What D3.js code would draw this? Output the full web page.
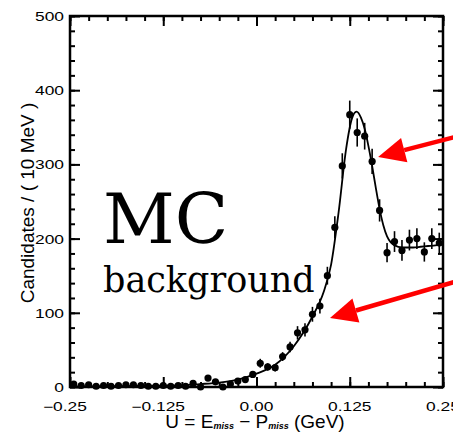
<!DOCTYPE html>
<html>
<head>
<meta charset="utf-8">
<script src="https://cdn.jsdelivr.net/npm/d3@7"></script>
<style>
  body { margin: 0; background: #fff; }
  svg { display: block; }
  .tick-label { font-family: "Liberation Sans", Arial, sans-serif; font-size: 12px; fill: #000; }
  .axis-title { font-family: "Liberation Sans", Arial, sans-serif; font-size: 19px; fill: #000; }
  .note { font-family: "DejaVu Serif", serif; fill: #000; }
</style>
</head>
<body>
<div id="chart"></div>
<script>
//Global variables
const width = 453;
const height = 435;
const plotLeft = 70, plotRight = 443, plotTop = 16, plotBottom = 387;

//Histogram bins (GeV)
const binCenters = [-0.245, -0.235, -0.225, -0.215, -0.205, -0.195, -0.185, -0.175, -0.165, -0.155,
    -0.145, -0.135, -0.125, -0.115, -0.105, -0.095, -0.085, -0.075, -0.065, -0.055,
    -0.045, -0.035, -0.025, -0.015, -0.005, 0.005, 0.015, 0.025, 0.035, 0.045,
    0.055, 0.065, 0.075, 0.085, 0.095, 0.105, 0.115, 0.125, 0.135, 0.145,
    0.155, 0.165, 0.175, 0.185, 0.195, 0.205, 0.215, 0.225, 0.235, 0.245];
const counts = [4, 2, 3, 1, 2, 1, 2, 3, 3, 2,
    1, 1, 2, 1, 2, 1, 5, 0, 12, 7,
    0, 4, 8, 10, 17, 32, 27, 26, 41, 54,
    73, 77, 98, 109, 150, 215, 298, 367, 343, 338,
    304, 238, 181, 196, 184, 198, 200, 182, 200, 194];
const errors = [2, 1.5, 2, 1, 1.5, 1, 1.5, 2, 2, 1.5,
    1, 1, 1.5, 1, 1.5, 1, 2.5, 1, 4, 3,
    1, 2, 3, 3, 4, 6, 5, 5, 6, 7,
    9, 9, 10, 10, 12, 15, 17, 19, 19, 18,
    17, 15, 13, 14, 14, 14, 14, 13, 14, 14];

//Fit curve
const fitX = [-0.25, -0.2, -0.15, -0.1, -0.075, -0.05, -0.025, 0, 0.025, 0.05, 0.075, 0.09, 0.1,
    0.11, 0.12, 0.128, 0.134, 0.14, 0.145, 0.15, 0.155, 0.16, 0.165, 0.17, 0.175, 0.18,
    0.19, 0.2, 0.21, 0.22, 0.23, 0.24, 0.25];
const fitY = [0.5, 1, 1.5, 2.5, 4, 6, 10, 18, 30, 55, 95, 128, 165,
    235, 320, 362, 371, 363, 348, 325, 298, 268, 240, 218, 203, 195,
    189, 188, 188, 189, 190, 191, 193];

//Ticks
const xMajor = [-0.25, -0.125, 0, 0.125, 0.25];
const xLabels = ["\u22120.25", "\u22120.125", "0.00", "0.125", "0.25"];
const xMinor = d3.range(-0.25, 0.2501, 0.025);
const yMajor = [0, 100, 200, 300, 400, 500];
const yMinor = d3.range(0, 501, 20);

//Annotations (data units)
const arrowTips = [[0.163, 310], [0.0985, 93]];
const arrowTails = [[0.27, 338], [0.27, 143]];

//Scales
const x = d3.scaleLinear().domain([-0.25, 0.25]).range([plotLeft, plotRight]);
const y = d3.scaleLinear().domain([0, 500]).range([plotBottom, plotTop]);

const svg = d3.select("#chart")
    .append("svg")
    .attr("width", width)
    .attr("height", height);

//Tick marks, inward on all four sides
function ticks(axis, pos, vals, size) {
    const g = svg.append("g")
        .attr("transform", pos)
        .call(axis.tickValues(vals).tickSize(-size).tickFormat(""));
    g.select(".domain").remove();
    g.selectAll("line").attr("stroke", "#000").attr("stroke-width", 2);
}
ticks(d3.axisBottom(x), `translate(0,${plotBottom})`, xMinor, 5);
ticks(d3.axisBottom(x), `translate(0,${plotBottom})`, xMajor, 10);
ticks(d3.axisTop(x), `translate(0,${plotTop})`, xMinor, 5);
ticks(d3.axisTop(x), `translate(0,${plotTop})`, xMajor, 10);
ticks(d3.axisLeft(y), `translate(${plotLeft},0)`, yMinor, 5);
ticks(d3.axisLeft(y), `translate(${plotLeft},0)`, yMajor, 10);
ticks(d3.axisRight(y), `translate(${plotRight},0)`, yMinor, 5);
ticks(d3.axisRight(y), `translate(${plotRight},0)`, yMajor, 10);

//Frame
svg.append("rect")
    .attr("x", plotLeft).attr("y", plotTop)
    .attr("width", plotRight - plotLeft).attr("height", plotBottom - plotTop)
    .attr("fill", "none").attr("stroke", "#000").attr("stroke-width", 2.5);

//Tick labels (wide font, stretched horizontally)
yMajor.forEach(v => {
    svg.append("text")
        .attr("class", "tick-label")
        .attr("transform", `translate(${plotLeft - 6},${y(v) + 5}) scale(1.45,1)`)
        .attr("text-anchor", "end")
        .text(v);
});
xMajor.forEach((v, i) => {
    svg.append("text")
        .attr("class", "tick-label")
        .attr("transform", `translate(${x(v)},${plotBottom + 24}) scale(1.45,1)`)
        .attr("text-anchor", "middle")
        .attr("dx", v < 0 ? -3.5 : 0)
        .text(xLabels[i]);
});

//Axis titles
svg.append("text")
    .attr("class", "axis-title")
    .attr("transform", `translate(34,203) rotate(-90)`)
    .attr("text-anchor", "middle")
    .text("Candidates / ( 10 MeV )");

const xt = svg.append("text")
    .attr("class", "axis-title")
    .attr("x", 255)
    .attr("y", 428)
    .attr("text-anchor", "middle");
xt.append("tspan").text("U = E");
xt.append("tspan").attr("font-size", 9).attr("font-weight", "bold").attr("font-style", "italic").attr("dy", 1).text("miss");
xt.append("tspan").attr("dy", -1).text(" \u2212 P");
xt.append("tspan").attr("font-size", 9).attr("font-weight", "bold").attr("font-style", "italic").attr("dy", 1).text("miss");
xt.append("tspan").attr("dy", -1).text(" (GeV)");

//Fit curve
const line = d3.line()
    .x((d, i) => x(fitX[i]))
    .y(d => y(d))
    .curve(d3.curveMonotoneX);
svg.append("path")
    .datum(fitY)
    .attr("d", line)
    .attr("fill", "none")
    .attr("stroke", "#000")
    .attr("stroke-width", 1.8);

//Error bars and points
const pts = svg.append("g");
pts.selectAll("line")
    .data(counts)
    .enter()
    .append("line")
    .attr("x1", (d, i) => x(binCenters[i]))
    .attr("x2", (d, i) => x(binCenters[i]))
    .attr("y1", (d, i) => y(Math.max(0, d - errors[i])))
    .attr("y2", (d, i) => y(d + errors[i]))
    .attr("stroke", "#000")
    .attr("stroke-width", 1.6);
pts.selectAll("circle")
    .data(counts)
    .enter()
    .append("circle")
    .attr("cx", (d, i) => x(binCenters[i]))
    .attr("cy", d => y(d))
    .attr("r", 3.6)
    .attr("fill", "#000");

//Labels
svg.append("text")
    .attr("class", "note")
    .attr("x", 103)
    .attr("y", 243)
    .attr("font-size", 70)
    .text("MC");
svg.append("text")
    .attr("class", "note")
    .attr("x", 103)
    .attr("y", 292)
    .attr("font-size", 35)
    .text("background");

//Red arrows
arrowTips.forEach((tip, i) => {
    const tx = x(tip[0]), ty = y(tip[1]);
    const sx = x(arrowTails[i][0]), sy = y(arrowTails[i][1]);
    const ang = Math.atan2(ty - sy, tx - sx);
    const headLen = 27, headW = 12.5;
    const bx = tx - headLen * Math.cos(ang), by = ty - headLen * Math.sin(ang);
    svg.append("line")
        .attr("x1", sx).attr("y1", sy)
        .attr("x2", bx).attr("y2", by)
        .attr("stroke", "#f00")
        .attr("stroke-width", 4.5);
    const px = -Math.sin(ang), py = Math.cos(ang);
    svg.append("path")
        .attr("d", `M${tx},${ty}L${bx + px * headW},${by + py * headW}L${bx - px * headW},${by - py * headW}Z`)
        .attr("fill", "#f00");
});
</script>
</body>
</html>
